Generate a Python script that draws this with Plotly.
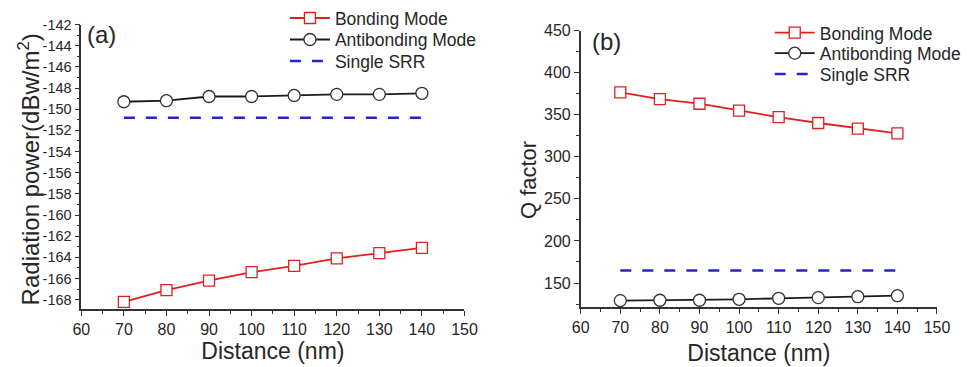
import plotly.graph_objects as go

distance = [70, 80, 90, 100, 110, 120, 130, 140]

# Panel (a): radiation power (dBw/m^2)
rad_bonding = [-168.2, -167.1, -166.2, -165.4, -164.8, -164.1, -163.6, -163.1]
rad_antibonding = [-149.3, -149.2, -148.8, -148.8, -148.7, -148.6, -148.6, -148.5]
rad_single = [-150.8] * 8
rad_ticks = [-142, -144, -146, -148, -150, -152, -154, -156, -158, -160, -162, -164, -166, -168]
rad_ticktext = ["-142", "-144", "-146", "-148", "-150", "-152", "-154", "-156", "-158",
                "-160", "-162", "-164", "-166", "-168"]

# Panel (b): Q factor
q_bonding = [376.7, 368.5, 363.1, 354.9, 347.2, 340.2, 333.6, 327.8]
q_antibonding = [129.1, 129.5, 129.5, 130.6, 131.8, 132.6, 133.7, 134.9]
q_single = [165] * 8

names = ["Bonding Mode", "Antibonding Mode", "Single SRR"]
RED = "#e0201e"
BLACK = "#1a1a1a"
BLUE = "#2424d0"
FONT = "Liberation Sans, Arial, sans-serif"
TXT = "#262626"

fig = go.Figure()

def add_set(x, ys, xa, ya, legends):
    b, ab, s = ys
    fig.add_trace(go.Scatter(x=x, y=b, name=names[0], mode="lines+markers", showlegend=True,
                             line=dict(color=RED, width=1.8),
                             marker=dict(symbol="square", size=11, color="white",
                                         line=dict(color=RED, width=1.3)),
                             xaxis=xa, yaxis=ya, legend=legends[0]))
    fig.add_trace(go.Scatter(x=x, y=ab, name=names[1], mode="lines+markers", showlegend=True,
                             line=dict(color=BLACK, width=1.8),
                             marker=dict(symbol="circle", size=12, color="white",
                                         line=dict(color="#333333", width=1.3)),
                             xaxis=xa, yaxis=ya, legend=legends[1]))
    fig.add_trace(go.Scatter(x=x, y=s, name=names[2], mode="lines", showlegend=True,
                             line=dict(color=BLUE, width=2.5, dash="11px,11px"),
                             xaxis=xa, yaxis=ya, legend=legends[2]))

add_set(distance, (rad_bonding, rad_antibonding, rad_single), "x", "y",
        ["legend", "legend2", "legend3"])
add_set(distance, (q_bonding, q_antibonding, q_single), "x2", "y2",
        ["legend4", "legend5", "legend6"])

axis_common = dict(showline=True, linecolor="#333333", linewidth=1.5, mirror=False,
                   ticks="outside", ticklen=5, tickwidth=1.2, tickcolor="#333333",
                   showgrid=False, zeroline=False,
                   tickfont=dict(family=FONT, size=16, color=TXT))

xcommon = dict(axis_common, range=[60, 150], tickmode="linear", tick0=60, dtick=10,
               minor=dict(ticks="outside", ticklen=3, tickcolor="#333333", dtick=5, tick0=60))

def leg(x, y):
    return dict(x=x, y=y, xanchor="left", yanchor="top", bgcolor="rgba(0,0,0,0)",
                font=dict(family=FONT, size=17.5, color=TXT), itemwidth=40)

fig.update_layout(
    width=967, height=367,
    margin=dict(l=0, r=0, t=0, b=0),
    paper_bgcolor="white", plot_bgcolor="white",
    font=dict(family=FONT, color=TXT),
    showlegend=True,
    xaxis=dict(xcommon, domain=[0.0765, 0.482], anchor="y",
               title=dict(text="Distance (nm)", font=dict(size=23, family=FONT, color=TXT), standoff=3)),
    yaxis=dict(axis_common, domain=[0.161, 0.954], anchor="x", range=[-168.9, -142],
               tickmode="array", tickvals=rad_ticks, ticktext=rad_ticktext,
               tickfont=dict(family=FONT, size=14.5, color=TXT),
               minor=dict(ticks="outside", ticklen=3, tickcolor="#333333", dtick=1, tick0=-142)),
    xaxis2=dict(xcommon, domain=[0.605, 0.982], anchor="y2",
                title=dict(text="Distance (nm)", font=dict(size=23, family=FONT, color=TXT), standoff=10)),
    yaxis2=dict(axis_common, domain=[0.166, 0.937], anchor="x2", range=[121, 450],
                tickmode="linear", tick0=150, dtick=50,
                minor=dict(ticks="outside", ticklen=3, tickcolor="#333333", dtick=25, tick0=150)),
    legend=leg(0.292, 1.022),
    legend2=leg(0.292, 0.962),
    legend3=leg(0.292, 0.902),
    legend4=leg(0.805, 0.981),
    legend5=leg(0.805, 0.924),
    legend6=leg(0.805, 0.866),
    annotations=[
        dict(text="(a)", x=0.080, y=0.925, xref="paper", yref="paper", xanchor="left", yanchor="middle",
             showarrow=False, font=dict(family=FONT, size=24, color=TXT)),
        dict(text="(b)", x=0.615, y=0.907, xref="paper", yref="paper", xanchor="left", yanchor="middle",
             showarrow=False, font=dict(family=FONT, size=24, color=TXT)),
        dict(text="Radiation power(dBw/m<sup>2</sup>)", x=0.021, y=0.55, xref="paper", yref="paper",
             xanchor="center", yanchor="middle", textangle=-90, showarrow=False,
             font=dict(family=FONT, size=24, color=TXT)),
        dict(text="Q factor", x=0.550, y=0.52, xref="paper", yref="paper",
             xanchor="center", yanchor="middle", textangle=-90, showarrow=False,
             font=dict(family=FONT, size=22, color=TXT)),
    ],
)

fig.write_html("out.html")
